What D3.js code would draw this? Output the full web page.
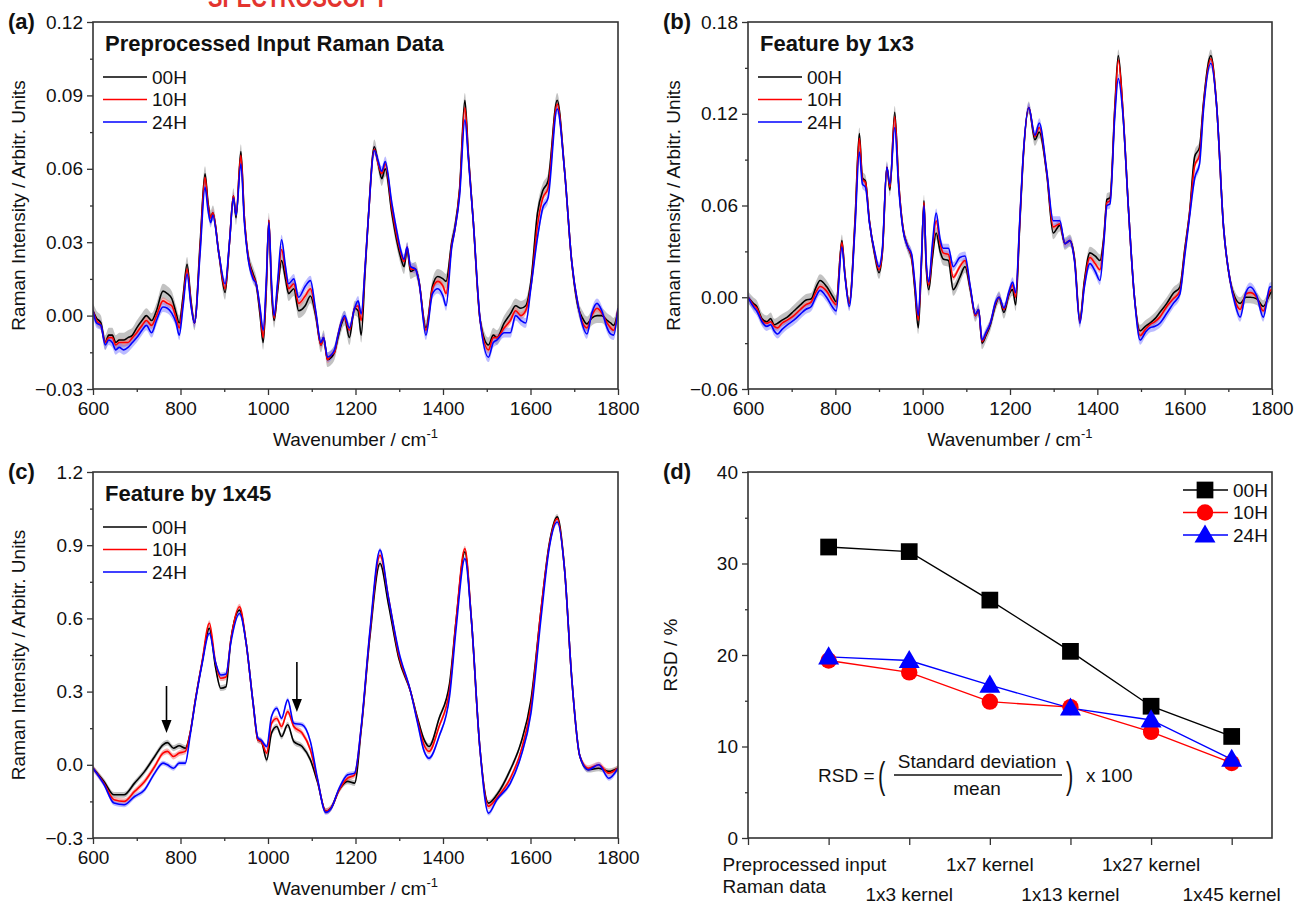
<!DOCTYPE html>
<html><head><meta charset="utf-8">
<script src="https://cdn.jsdelivr.net/npm/d3@7"></script>
<style>
body{margin:0;background:#fff}
svg text{font-family:"Liberation Sans",Arial,Helvetica,sans-serif;fill:#111}
</style>
</head><body>
<svg id="chart" width="1295" height="904"></svg>
<script>
// ---------------- DATA ----------------
const seriesNames = ["00H", "10H", "24H"];
const waveTicks = [600, 800, 1000, 1200, 1400, 1600, 1800];

// (a) Preprocessed input Raman data
const waveA = [600,608,618,628,636,644,652,660,670,680,690,700,712,722,734,745,760,770,780,790,797,806,815,824,832,845,856,863,869,874,888,902,912,921,927,938,946,954,966,973,982,989,996,1002,1008,1014,1022,1031,1040,1047,1059,1070,1085,1097,1109,1121,1127,1136,1145,1152,1160,1167,1175,1186,1198,1206,1213,1222,1229,1243,1252,1260,1268,1283,1295,1303,1311,1318,1326,1337,1345,1361,1376,1388,1400,1407,1420,1427,1438,1450,1458,1469,1485,1504,1515,1523,1540,1554,1566,1578,1589,1601,1616,1628,1640,1661,1678,1694,1709,1719,1729,1740,1752,1763,1775,1783,1790,1800];
const a00 = [0.002,-0.001,-0.003,-0.011,-0.008,-0.008,-0.011,-0.010,-0.010,-0.009,
 -0.008,-0.005,-0.002,0.000,-0.002,0.002,0.010,0.009,0.007,0.001,
 -0.003,0.008,0.021,0.006,-0.003,0.030,0.058,0.046,0.040,0.042,
 0.025,0.0095,0.030,0.049,0.040,0.067,0.040,0.025,0.017,0.013,
 0.000,-0.011,0.010,0.039,0.010,-0.002,0.010,0.0225,0.015,0.009,
 0.011,0.002,0.004,0.008,0.000,-0.012,-0.009,-0.018,-0.017,-0.015,
 -0.009,-0.004,-0.001,-0.009,0.003,0.002,-0.008,0.018,0.039,0.069,
 0.062,0.056,0.060,0.042,0.030,0.024,0.020,0.027,0.018,0.019,
 0.014,-0.005,0.012,0.016,0.015,0.014,0.030,0.036,0.052,0.088,
 0.066,0.039,-0.002,-0.012,-0.008,-0.009,-0.003,0.0007,0.004,0.003,
 0.004,0.014,0.042,0.051,0.055,0.088,0.059,0.0225,0.0034,-0.001,
 -0.0034,-0.001,0.000,0.000,-0.002,-0.003,-0.004,0.002];
const a10 = [0.002,-0.002,-0.004,-0.011,-0.009,-0.009,-0.012,-0.011,-0.011,-0.011,
 -0.009,-0.007,-0.004,-0.002,-0.004,0.000,0.006,0.005,0.004,-0.001,
 -0.005,0.006,0.019,0.005,-0.003,0.028,0.0565,0.045,0.040,0.042,
 0.025,0.011,0.030,0.049,0.041,0.0655,0.040,0.025,0.016,0.013,
 0.002,-0.009,0.012,0.039,0.012,-0.001,0.012,0.027,0.018,0.011,
 0.013,0.005,0.008,0.011,0.001,-0.012,-0.009,-0.018,-0.016,-0.015,
 -0.008,-0.003,-0.001,-0.006,0.003,0.004,-0.002,0.020,0.039,0.068,
 0.062,0.058,0.062,0.044,0.032,0.026,0.022,0.028,0.019,0.019,
 0.014,-0.006,0.011,0.014,0.012,0.009,0.029,0.035,0.051,0.085,
 0.065,0.039,-0.002,-0.014,-0.009,-0.009,-0.005,-0.002,0.002,0.000,
 0.002,0.012,0.037,0.048,0.052,0.0865,0.059,0.0225,0.004,-0.003,
 -0.005,0.000,0.003,0.001,-0.003,-0.005,-0.006,0.003];
const a24 = [0.002,-0.003,-0.004,-0.012,-0.010,-0.011,-0.014,-0.013,-0.014,-0.013,
 -0.011,-0.009,-0.006,-0.004,-0.007,-0.002,0.0035,0.003,0.001,-0.003,
 -0.008,0.004,0.017,0.004,-0.003,0.026,0.0525,0.043,0.038,0.041,
 0.025,0.013,0.030,0.048,0.041,0.062,0.038,0.024,0.015,0.013,
 0.003,-0.006,0.014,0.038,0.014,0.000,0.014,0.031,0.020,0.013,
 0.015,0.0075,0.012,0.0143,0.002,-0.011,-0.009,-0.017,-0.016,-0.014,
 -0.008,-0.003,0.000,-0.005,0.003,0.006,0.0007,0.020,0.039,0.0675,
 0.063,0.059,0.063,0.046,0.034,0.027,0.023,0.028,0.020,0.019,
 0.014,-0.008,0.009,0.011,0.008,0.004,0.028,0.035,0.049,0.080,
 0.064,0.039,-0.002,-0.017,-0.011,-0.010,-0.007,-0.007,0.000,-0.002,
 -0.003,0.0115,0.032,0.044,0.048,0.0845,0.059,0.0225,0.004,-0.004,
 -0.0075,0.001,0.005,0.002,-0.005,-0.0075,-0.008,0.003];
const sdA = [0.003, 0.0015, 0.002];
const yTicksA = [-0.03, 0.00, 0.03, 0.06, 0.09, 0.12];

// (b) Feature by 1x3
const waveB = [600,612,620,632,643,652,660,668,678,690,705,720,732,745,755,765,780,795,802,815,822,832,845,855,862,869,878,890,900,908,918,925,936,945,955,966,975,982,990,997,1003,1008,1014,1022,1031,1040,1047,1059,1070,1085,1097,1109,1121,1128,1136,1145,1155,1167,1175,1186,1198,1206,1213,1222,1229,1243,1257,1267,1284,1299,1314,1326,1337,1348,1360,1370,1383,1395,1406,1415,1422,1429,1440,1448,1459,1471,1485,1498,1510,1520,1532,1543,1559,1574,1589,1600,1611,1623,1634,1643,1660,1673,1689,1704,1715,1727,1740,1750,1765,1780,1795,1800];
const b00 = [0,-0.004,-0.006,-0.014,-0.016,-0.014,-0.018,-0.017,-0.015,-0.013,
 -0.009,-0.005,-0.002,-0.001,0.006,0.011,0.007,0.000,-0.003,0.037,
 0.015,-0.004,0.050,0.107,0.078,0.076,0.050,0.028,0.016,0.030,
 0.085,0.070,0.121,0.075,0.045,0.033,0.025,0.005,-0.020,0.020,
 0.063,0.020,0.005,0.025,0.042,0.030,0.025,0.024,0.005,0.013,
 0.020,0.005,-0.012,-0.008,-0.030,-0.025,-0.018,-0.005,0.000,-0.010,
 0.002,0.005,-0.005,0.045,0.085,0.124,0.103,0.108,0.081,0.042,
 0.047,0.035,0.037,0.025,-0.015,0.010,0.029,0.027,0.024,0.040,
 0.064,0.065,0.124,0.158,0.120,0.059,0.000,-0.022,-0.019,-0.017,
 -0.014,-0.010,-0.004,0.0026,0.0067,0.031,0.055,0.092,0.098,0.127,
 0.158,0.126,0.046,0.011,0.000,-0.004,0.000,0.000,-0.001,-0.006,
 0.002,0.004];
const b10 = [0,-0.005,-0.007,-0.015,-0.017,-0.016,-0.019,-0.020,-0.017,-0.015,
 -0.012,-0.008,-0.005,-0.003,0.003,0.007,0.004,-0.003,-0.005,0.036,
 0.015,-0.004,0.048,0.104,0.077,0.075,0.050,0.029,0.018,0.031,
 0.085,0.072,0.118,0.075,0.045,0.033,0.026,0.008,-0.015,0.022,
 0.062,0.022,0.008,0.030,0.050,0.035,0.029,0.028,0.013,0.020,
 0.024,0.006,-0.012,-0.008,-0.029,-0.024,-0.017,-0.004,0.000,-0.008,
 0.003,0.008,0.000,0.047,0.086,0.124,0.105,0.111,0.082,0.046,
 0.048,0.035,0.037,0.024,-0.016,0.008,0.026,0.022,0.018,0.038,
 0.062,0.063,0.122,0.155,0.120,0.059,0.000,-0.025,-0.021,-0.018,
 -0.016,-0.013,-0.006,-0.001,0.004,0.029,0.054,0.086,0.093,0.125,
 0.156,0.126,0.046,0.011,-0.002,-0.008,0.002,0.003,0.000,-0.009,
 0.004,0.005];
const b24 = [0,-0.006,-0.009,-0.016,-0.019,-0.018,-0.022,-0.024,-0.021,-0.018,
 -0.015,-0.011,-0.008,-0.006,0.000,0.0045,0.000,-0.007,-0.009,0.033,
 0.014,-0.006,0.045,0.095,0.074,0.072,0.049,0.030,0.020,0.033,
 0.085,0.074,0.111,0.072,0.044,0.033,0.028,0.010,-0.012,0.024,
 0.060,0.024,0.010,0.034,0.055,0.038,0.032,0.032,0.020,0.026,
 0.027,0.007,-0.011,-0.008,-0.028,-0.023,-0.017,-0.003,0.000,-0.007,
 0.004,0.010,0.003,0.048,0.087,0.124,0.106,0.114,0.083,0.050,
 0.050,0.035,0.037,0.023,-0.017,0.006,0.022,0.017,0.011,0.036,
 0.060,0.061,0.118,0.143,0.118,0.059,0.000,-0.028,-0.023,-0.020,
 -0.019,-0.017,-0.0105,-0.004,0.002,0.0266,0.052,0.078,0.087,0.122,
 0.153,0.126,0.046,0.011,-0.004,-0.013,0.003,0.0067,0.001,-0.013,
 0.0067,0.007];
const sdB = [0.004, 0.002, 0.003];
const yTicksB = [-0.06, 0.00, 0.06, 0.12, 0.18];

// (c) Feature by 1x45
const waveC = [600,625,648,671,695,718,741,760,770,784,797,811,822,834,849,866,880,892,904,915,935,950,966,977,985,997,1008,1020,1031,1045,1059,1078,1097,1113,1132,1144,1163,1182,1198,1213,1233,1256,1275,1299,1326,1342,1357,1368,1391,1415,1430,1450,1465,1484,1504,1523,1554,1578,1601,1624,1643,1661,1678,1694,1713,1732,1756,1779,1800];
const c00 = [-0.014,-0.068,-0.123,-0.123,-0.075,-0.027,0.034,0.082,0.091,0.068,
 0.078,0.068,0.130,0.266,0.416,0.559,0.400,0.314,0.320,0.511,
 0.634,0.500,0.252,0.102,0.095,0.020,0.130,0.157,0.116,0.164,
 0.095,0.075,0.020,-0.070,-0.190,-0.177,-0.102,-0.068,-0.075,0.143,
 0.525,0.825,0.661,0.436,0.300,0.190,0.102,0.075,0.190,0.334,
 0.593,0.873,0.593,0.075,-0.157,-0.123,-0.020,0.089,0.266,0.634,
 0.907,1.016,0.798,0.361,0.034,-0.020,-0.014,-0.027,-0.014];
const c10 = [-0.014,-0.075,-0.143,-0.150,-0.109,-0.068,-0.007,0.048,0.055,0.034,
 0.048,0.055,0.130,0.266,0.420,0.580,0.420,0.355,0.360,0.511,
 0.648,0.500,0.252,0.102,0.095,0.048,0.170,0.190,0.157,0.218,
 0.157,0.130,0.061,-0.061,-0.190,-0.177,-0.102,-0.055,-0.041,0.150,
 0.540,0.859,0.689,0.450,0.300,0.180,0.080,0.055,0.157,0.307,
 0.593,0.886,0.593,0.075,-0.170,-0.136,-0.055,0.055,0.239,0.634,
 0.900,1.009,0.798,0.361,0.034,-0.014,0.000,-0.034,-0.014];
const c24 = [-0.014,-0.080,-0.157,-0.164,-0.130,-0.102,-0.034,0.007,0.000,-0.014,
 0.007,0.007,0.120,0.260,0.410,0.539,0.420,0.368,0.372,0.500,
 0.620,0.500,0.252,0.110,0.100,0.075,0.198,0.232,0.190,0.266,
 0.170,0.164,0.095,-0.055,-0.195,-0.180,-0.095,-0.041,-0.034,0.155,
 0.550,0.880,0.689,0.464,0.300,0.170,0.055,0.027,0.116,0.280,
 0.560,0.845,0.593,0.075,-0.198,-0.143,-0.075,0.034,0.211,0.600,
 0.890,0.995,0.798,0.361,0.034,-0.020,0.000,-0.055,-0.014];
const sdC = [0.012, 0.012, 0.010];
const yTicksC = [-0.3, 0.0, 0.3, 0.6, 0.9, 1.2];
const arrowWaves = [768, 1066];
const arrowFrom = [0.323, 0.421];
const arrowTo = [0.130, 0.216];

// (d) RSD
const stages = ["Preprocessed input|Raman data", "1x3 kernel", "1x7 kernel", "1x13 kernel", "1x27 kernel", "1x45 kernel"];
const rsd00 = [31.8, 31.3, 26.0, 20.4, 14.4, 11.1];
const rsd10 = [19.4, 18.1, 14.9, 14.3, 11.6, 8.2];
const rsd24 = [19.8, 19.4, 16.7, 14.2, 12.9, 8.6];
const yTicksD = [0, 10, 20, 30, 40];

// ---------------- STYLE ----------------
const lineColors = ["#000000", "#ff0000", "#0000ff"];
const bandColors = ["#9a9a9a", "#f07878", "#7a7aff"];
const bandOpacity = [0.6, 0.55, 0.5];
const axisColor = "#333";
const svg = d3.select("#chart");

// top cropped red banner text (cut at the top edge as in the reference)
svg.append("text").attr("x", 208).attr("y", 7).attr("textLength", 180)
  .attr("lengthAdjust", "spacingAndGlyphs")
  .style("font-size", "28px").style("font-weight", "bold").style("fill", "#e3342f")
  .text("SPECTROSCOPY");

function midpoints(arr) { return arr.slice(1).map((v, i) => (v + arr[i]) / 2); }

function styleAxis(sel) {
  sel.select(".domain").remove();
  sel.selectAll(".tick line").attr("stroke", axisColor).attr("stroke-width", 1.3);
  sel.selectAll(".tick text").style("font-size", "19px").style("fill", "#111")
    .style("font-family", '"Liberation Sans",Arial,sans-serif');
}

function frame(g, box) {
  g.append("rect").attr("x", box.l).attr("y", box.t).attr("width", box.r - box.l)
    .attr("height", box.b - box.t).attr("fill", "none").attr("stroke", axisColor).attr("stroke-width", 1.6);
}

function yAxes(g, y, box, ticks, fmt) {
  const ga = g.append("g").attr("transform", `translate(${box.l},0)`)
    .call(d3.axisLeft(y).tickValues(ticks).tickSize(6).tickPadding(4).tickFormat(fmt));
  styleAxis(ga);
  const gm = g.append("g").attr("transform", `translate(${box.l},0)`)
    .call(d3.axisLeft(y).tickValues(midpoints(ticks)).tickSize(3).tickFormat(""));
  styleAxis(gm);
}

function spectrumPanel(cfg) {
  const box = cfg.box;
  const g = svg.append("g");
  const x = d3.scaleLinear().domain([600, 1800]).range([box.l, box.r]);
  const y = d3.scaleLinear().domain([cfg.yTicks[0], cfg.yTicks[cfg.yTicks.length - 1]]).range([box.b, box.t]);
  const clipId = "clip" + cfg.letter;
  svg.append("defs").append("clipPath").attr("id", clipId).append("rect")
    .attr("x", box.l).attr("y", box.t).attr("width", box.r - box.l).attr("height", box.b - box.t);
  const plot = g.append("g").attr("clip-path", `url(#${clipId})`);
  cfg.series.forEach((s, k) => {
    const area = d3.area().x((d, i) => x(cfg.wave[i])).y0(d => y(d - cfg.sd[k])).y1(d => y(d + cfg.sd[k]))
      .curve(d3.curveMonotoneX);
    plot.append("path").attr("d", area(s)).attr("fill", bandColors[k]).attr("opacity", bandOpacity[k]);
  });
  cfg.series.forEach((s, k) => {
    const line = d3.line().x((d, i) => x(cfg.wave[i])).y(d => y(d)).curve(d3.curveMonotoneX);
    plot.append("path").attr("d", line(s)).attr("fill", "none").attr("stroke", lineColors[k])
      .attr("stroke-width", 1.6).attr("stroke-linejoin", "round");
  });
  // axes
  const gx = g.append("g").attr("transform", `translate(0,${box.b})`)
    .call(d3.axisBottom(x).tickValues(waveTicks).tickSize(6).tickPadding(7).tickFormat(d3.format("d")));
  styleAxis(gx);
  const gxm = g.append("g").attr("transform", `translate(0,${box.b})`)
    .call(d3.axisBottom(x).tickValues(midpoints(waveTicks)).tickSize(3).tickFormat(""));
  styleAxis(gxm);
  yAxes(g, y, box, cfg.yTicks, cfg.fmt);
  frame(g, box);
  // titles
  const xt = g.append("text").attr("x", (box.l + box.r) / 2).attr("y", box.b + 57)
    .attr("text-anchor", "middle").style("font-size", "19px");
  xt.append("tspan").text("Wavenumber / cm");
  xt.append("tspan").text("-1").attr("dy", -8).style("font-size", "13px");
  g.append("text").attr("transform", `translate(${box.l - 68},${(box.t + box.b) / 2}) rotate(-90)`)
    .attr("text-anchor", "middle").style("font-size", "19px").text("Raman Intensity / Arbitr. Units");
  g.append("text").attr("x", box.l - 85).attr("y", box.t + 7).style("font-size", "22px")
    .style("font-weight", "bold").text("(" + cfg.letter + ")");
  g.append("text").attr("x", box.l + 12).attr("y", box.t + 29).style("font-size", "22px")
    .style("font-weight", "bold").text(cfg.title);
  seriesNames.forEach((n, k) => {
    const yy = box.t + 55 + k * 22.5;
    g.append("line").attr("x1", box.l + 10).attr("x2", box.l + 54).attr("y1", yy).attr("y2", yy)
      .attr("stroke", lineColors[k]).attr("stroke-width", 1.6);
    g.append("text").attr("x", box.l + 59).attr("y", yy).attr("dy", "0.36em").style("font-size", "19px").text(n);
  });
  if (cfg.arrows) {
    cfg.arrows.forEach(a => {
      const ax = x(a.w), y1 = y(a.from), y2 = y(a.to);
      g.append("line").attr("x1", ax).attr("x2", ax).attr("y1", y1).attr("y2", y2 - 10)
        .attr("stroke", "#000").attr("stroke-width", 1.6);
      g.append("path").attr("d", `M${ax - 5},${y2 - 13} L${ax + 5},${y2 - 13} L${ax},${y2} Z`).attr("fill", "#000");
    });
  }
}

spectrumPanel({letter: "a", box: {l: 93, r: 618, t: 22, b: 389}, wave: waveA, series: [a00, a10, a24], sd: sdA,
  yTicks: yTicksA, fmt: d3.format(".2f"), title: "Preprocessed Input Raman Data"});
spectrumPanel({letter: "b", box: {l: 748, r: 1272, t: 22, b: 389}, wave: waveB, series: [b00, b10, b24], sd: sdB,
  yTicks: yTicksB, fmt: d3.format(".2f"), title: "Feature by 1x3"});
spectrumPanel({letter: "c", box: {l: 93, r: 618, t: 472, b: 838}, wave: waveC, series: [c00, c10, c24], sd: sdC,
  yTicks: yTicksC, fmt: d3.format(".1f"), title: "Feature by 1x45",
  arrows: arrowWaves.map((w, i) => ({w: w, from: arrowFrom[i], to: arrowTo[i]}))});

// ---------------- panel (d) ----------------
(function () {
  const box = {l: 748, r: 1272, t: 472, b: 838};
  const g = svg.append("g");
  const x = d3.scaleLinear().domain([0, 6.5]).range([box.l, box.r]);
  const y = d3.scaleLinear().domain([0, 40]).range([box.b, box.t]);
  const gx = g.append("g").attr("transform", `translate(0,${box.b})`)
    .call(d3.axisBottom(x).tickValues(d3.range(0, 7)).tickSize(7).tickFormat(""));
  styleAxis(gx);
  yAxes(g, y, box, yTicksD, d3.format("d"));
  frame(g, box);
  g.append("text").attr("x", box.l - 85).attr("y", box.t + 7).style("font-size", "22px")
    .style("font-weight", "bold").text("(d)");
  g.append("text").attr("transform", `translate(${box.l - 71},${(box.t + box.b) / 2}) rotate(-90)`)
    .attr("text-anchor", "middle").style("font-size", "19px").text("RSD / %");
  // category labels
  stages.forEach((s, i) => {
    const parts = s.split("|");
    const row = i % 2 === 0 ? 0 : 1;
    if (parts.length > 1) {
      parts.forEach((p, j) => {
        g.append("text").attr("x", x(i + 1) - 106).attr("y", box.b + 33 + j * 22)
          .style("font-size", "19px").text(p);
      });
    } else {
      g.append("text").attr("x", x(i + 1)).attr("y", box.b + 33 + row * 30)
        .attr("text-anchor", "middle").style("font-size", "19px").text(s);
    }
  });
  const data = [rsd00, rsd10, rsd24];
  const symbols = [d3.symbolSquare, d3.symbolCircle, d3.symbolTriangle];
  const sizes = [280, 210, 190];
  data.forEach((vals, k) => {
    const line = d3.line().x((d, i) => x(i + 1)).y(d => y(d));
    g.append("path").attr("d", line(vals)).attr("fill", "none").attr("stroke", lineColors[k]).attr("stroke-width", 1.4);
  });
  data.forEach((vals, k) => {
    vals.forEach((v, i) => {
      g.append("path").attr("d", d3.symbol().type(symbols[k]).size(sizes[k])())
        .attr("transform", `translate(${x(i + 1)},${y(v) + (k === 2 ? 1.5 : 0)})`)
        .attr("fill", lineColors[k]);
    });
  });
  // legend
  seriesNames.forEach((n, k) => {
    const yy = box.t + 18 + k * 22.5;
    g.append("line").attr("x1", 1183).attr("x2", 1228).attr("y1", yy).attr("y2", yy)
      .attr("stroke", lineColors[k]).attr("stroke-width", 1.4);
    g.append("path").attr("d", d3.symbol().type(symbols[k]).size(sizes[k])())
      .attr("transform", `translate(1205,${yy + (k === 2 ? 1.5 : 0)})`).attr("fill", lineColors[k]);
    g.append("text").attr("x", 1233).attr("y", yy).attr("dy", "0.36em").style("font-size", "19px").text(n);
  });
  // formula
  const fy = 782;
  g.append("text").attr("x", 818).attr("y", fy).style("font-size", "19px").text("RSD =");
  g.append("text").attr("transform", "translate(878,788) scale(1,1.7)").style("font-size", "22px").text("(");
  g.append("text").attr("x", 977).attr("y", 768).attr("text-anchor", "middle").style("font-size", "19px").text("Standard deviation");
  g.append("line").attr("x1", 894).attr("x2", 1062).attr("y1", 775).attr("y2", 775).attr("stroke", "#111").attr("stroke-width", 1.3);
  g.append("text").attr("x", 977).attr("y", 795).attr("text-anchor", "middle").style("font-size", "19px").text("mean");
  g.append("text").attr("transform", "translate(1066,788) scale(1,1.7)").style("font-size", "22px").text(")");
  g.append("text").attr("x", 1086).attr("y", fy).style("font-size", "19px").text("x 100");
})();
</script>
</body></html>
